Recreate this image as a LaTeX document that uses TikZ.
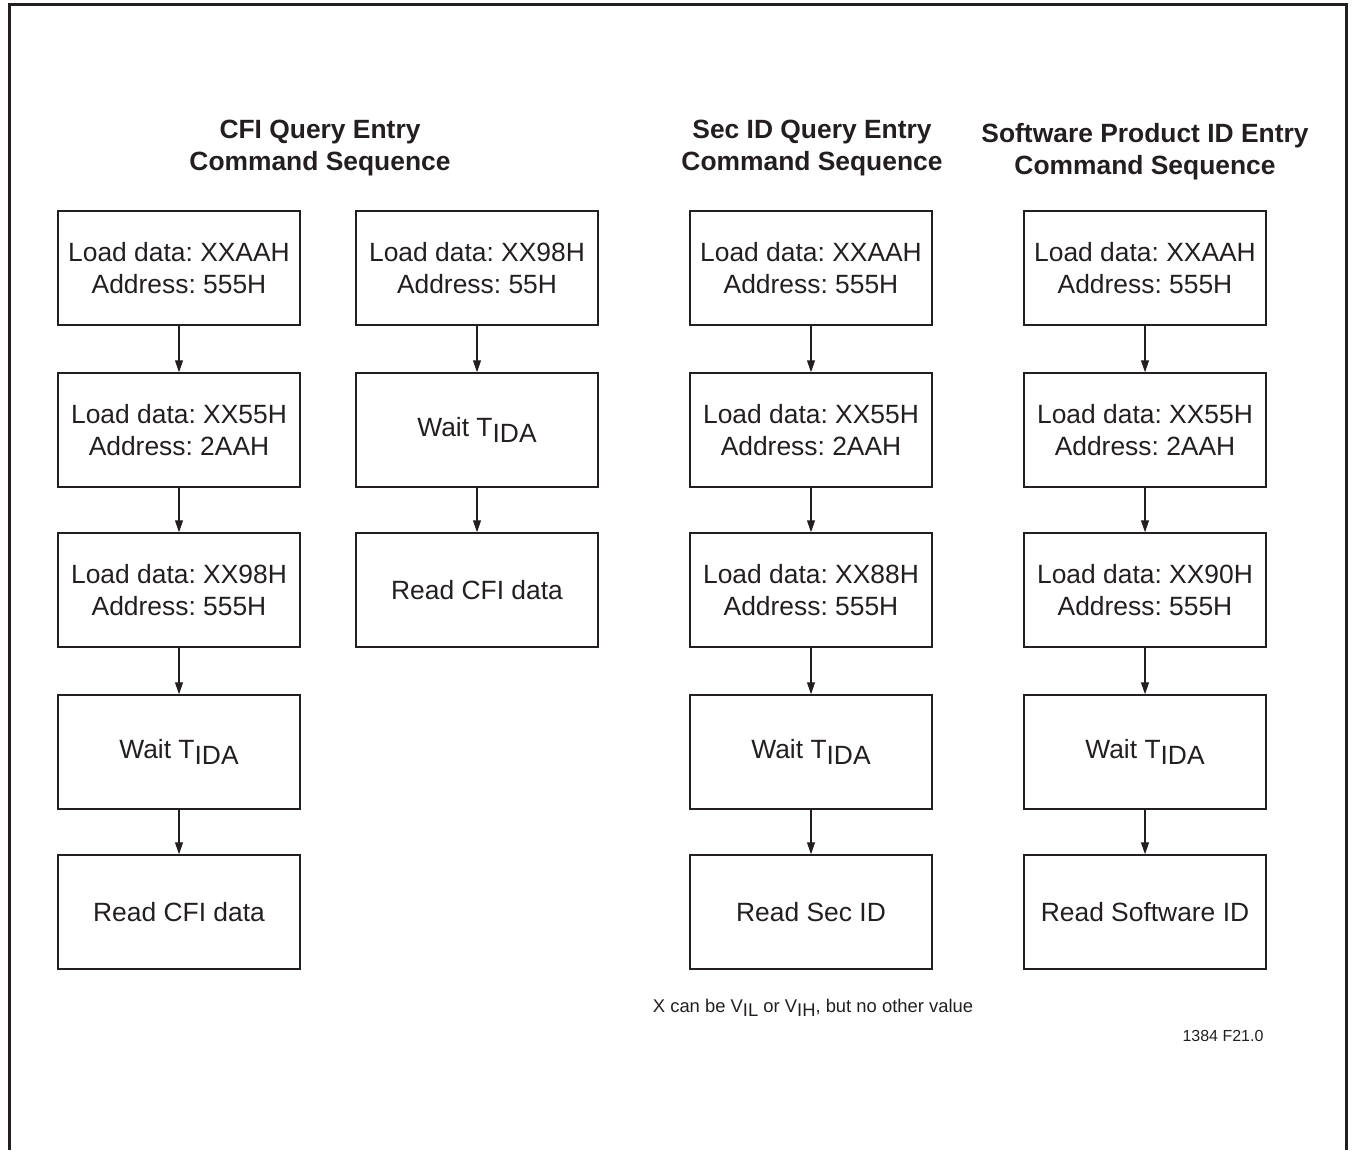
\documentclass[tikz,border=0pt]{standalone}
\usepackage{fontspec}
\setmainfont{Liberation Sans}
\usetikzlibrary{arrows.meta}
\definecolor{ink}{RGB}{35,31,32}
\frenchspacing
\newcommand{\tida}{T\raisebox{-0.45ex}{IDA}}
\tikzset{
  stepbox/.style={draw=ink,line width=0.75pt,minimum width=121pt,minimum height=57pt,
    inner sep=0pt,align=center,text=ink,font=\fontsize{13.2}{16}\selectfont},
  title/.style={align=center,text=ink,font=\fontsize{13.2}{16}\selectfont\bfseries},
  arr/.style={draw=ink,line width=0.6pt,-{Triangle[length=6pt,width=4pt]}}
}
\begin{document}
\begin{tikzpicture}[x=0.5pt,y=-0.5pt]
    \useasboundingbox (0,0) rectangle (1353,1150);
    \draw[ink,line width=1.5pt] (9,1150) |- (1346,5) -- (1346,1150);

    \node[title] (tcfi) at (320,148) {CFI Query Entry\\Command Sequence};
    \node[title] (tsec) at (812,148) {Sec ID Query Entry\\Command Sequence};
    \node[title] (tsw) at (1145,152) {Software Product ID Entry\\Command Sequence};

    % the three long sequences
    \foreach \col/\x/\cmd/\rd in {c/179/XX98H/Read CFI data,s/811/XX88H/Read Sec ID,p/1145/XX90H/Read Software ID} {
      \node[stepbox] (\col1) at (\x,268) {Load data: XXAAH\\Address: 555H};
      \node[stepbox] (\col2) at (\x,430) {Load data: XX55H\\Address: 2AAH};
      \node[stepbox] (\col3) at (\x,590) {Load data: \cmd\\Address: 555H};
      \node[stepbox] (\col4) at (\x,752) {Wait \tida};
      \node[stepbox] (\col5) at (\x,912) {\rd};
      \foreach \i [count=\j from 2] in {1,...,4} \draw[arr] (\col\i) -- (\col\j);
    }

    % short CFI sequence
    \node[stepbox] (k1) at (477,268) {Load data: XX98H\\Address: 55H};
    \node[stepbox] (k2) at (477,430) {Wait \tida};
    \node[stepbox] (k3) at (477,590) {Read CFI data};
    \draw[arr] (k1) -- (k2);
    \draw[arr] (k2) -- (k3);

    \node[text=ink,font=\fontsize{9.2}{11}\selectfont] (note) at (813,1008)
      {X can be V\raisebox{-0.45ex}{IL} or V\raisebox{-0.45ex}{IH}, but no other value};
    \node[text=ink,font=\fontsize{8}{10}\selectfont] (fig) at (1223,1036) {1384 F21.0};
  \end{tikzpicture}
\end{document}
